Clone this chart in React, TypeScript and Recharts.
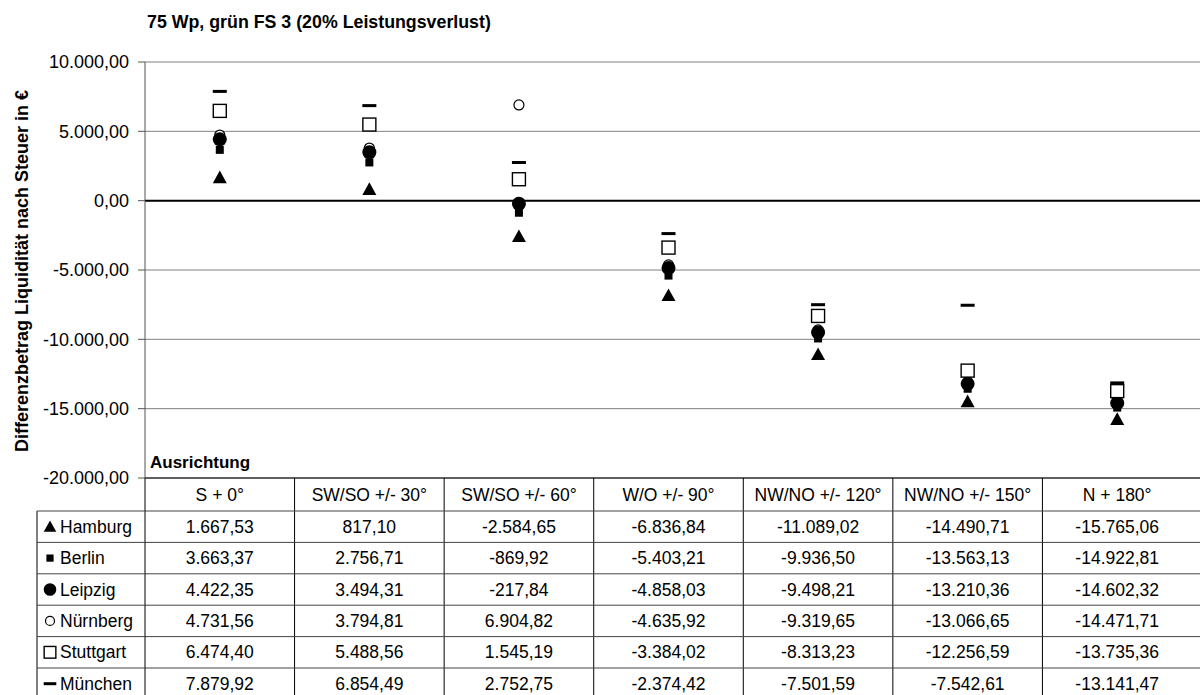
import React from 'react';
import { ComposedChart, Line, XAxis, YAxis, CartesianGrid, ReferenceLine } from 'recharts';

const categories = ['S + 0°', 'SW/SO +/- 30°', 'SW/SO +/- 60°', 'W/O +/- 90°', 'NW/NO +/- 120°', 'NW/NO +/- 150°', 'N + 180°'];
const hamburg = [1667.53, 817.1, -2584.65, -6836.84, -11089.02, -14490.71, -15765.06];
const berlin = [3663.37, 2756.71, -869.92, -5403.21, -9936.5, -13563.13, -14922.81];
const leipzig = [4422.35, 3494.31, -217.84, -4858.03, -9498.21, -13210.36, -14602.32];
const nuernberg = [4731.56, 3794.81, 6904.82, -4635.92, -9319.65, -13066.65, -14471.71];
const stuttgart = [6474.4, 5488.56, 1545.19, -3384.02, -8313.23, -12256.59, -13735.36];
const muenchen = [7879.92, 6854.49, 2752.75, -2374.42, -7501.59, -7542.61, -13141.47];
const yTicks = [-20000, -15000, -10000, -5000, 0, 5000, 10000];

// table order (rows) and drawing order differ a bit
const cities = [
  { key: 'hamburg', name: 'Hamburg', values: hamburg, marker: 'triangle' },
  { key: 'berlin', name: 'Berlin', values: berlin, marker: 'square' },
  { key: 'leipzig', name: 'Leipzig', values: leipzig, marker: 'dot' },
  { key: 'nuernberg', name: 'Nürnberg', values: nuernberg, marker: 'circle' },
  { key: 'stuttgart', name: 'Stuttgart', values: stuttgart, marker: 'openSquare' },
  { key: 'muenchen', name: 'München', values: muenchen, marker: 'dash' },
];
const drawOrder = ['hamburg', 'berlin', 'nuernberg', 'leipzig', 'stuttgart', 'muenchen'];

const data = categories.map((cat, i) => {
  const row: any = { cat };
  cities.forEach((c) => (row[c.key] = c.values[i]));
  return row;
});

const FONT = '"Liberation Sans", Arial, sans-serif';
const W = 1200;
const H = 695;
const LEFT = 145;
const TABLE_RIGHT = 1192;
const TOP = 62;
const BOTTOM = 478;
const HEADER_H = 33;
const ROW_H = 31.4;
const LABEL_LEFT = 37;
const band = (TABLE_RIGHT - LEFT) / categories.length;

function fmt(v: number) {
  const neg = v < 0;
  const [int, dec] = Math.abs(v).toFixed(2).split('.');
  const withDots = int.replace(/\B(?=(\d{3})+(?!\d))/g, '.');
  return (neg ? '-' : '') + withDots + ',' + dec;
}

function Marker({ kind, cx, cy, s = 1 }: { kind: string; cx: number; cy: number; s?: number }) {
  switch (kind) {
    case 'triangle': {
      const h = 7 * s;
      return <polygon points={`${cx},${cy - h} ${cx + h},${cy + h * 0.8} ${cx - h},${cy + h * 0.8}`} fill="#000" />;
    }
    case 'square':
      return <rect x={cx - 4 * s} y={cy - 4 * s} width={8 * s} height={8 * s} fill="#000" />;
    case 'dot':
      return <circle cx={cx} cy={cy} r={7 * s} fill="#000" />;
    case 'circle':
      return <circle cx={cx} cy={cy} r={5 * s} fill="#fff" stroke="#000" strokeWidth={1.2} />;
    case 'openSquare':
      return <rect x={cx - 6.5 * s} y={cy - 6.5 * s} width={13 * s} height={13 * s} fill="#fff" stroke="#000" strokeWidth={1.4} />;
    case 'dash':
      return <rect x={cx - 7 * s} y={cy - 1.5} width={14 * s} height={3} fill="#000" />;
  }
  return null;
}

function rowTop(i: number) {
  return BOTTOM + HEADER_H + i * ROW_H;
}

// header label + the column of values below it, placed at the axis tick
function TableColumn(props: any) {
  const { x, index, payload } = props;
  const last = index === categories.length - 1;
  const right = last ? W : x + band / 2;
  return (
    <g fontFamily={FONT}>
      <text x={x} y={BOTTOM + HEADER_H / 2 + 6} textAnchor="middle" fontSize={17.5} fill="#000">
        {payload.value}
      </text>
      {!last && <line x1={right} x2={right} y1={BOTTOM} y2={H} stroke="#000" />}
      {cities.map((c, r) => (
        <g key={c.key}>
          <line x1={x - band / 2} x2={right} y1={rowTop(r)} y2={rowTop(r)} stroke="#444" />
          <text x={x} y={rowTop(r) + ROW_H / 2 + 6} textAnchor="middle" fontSize={17.5} fill="#000">
            {fmt(c.values[index])}
          </text>
        </g>
      ))}
    </g>
  );
}

export default function App() {
  return (
    <div style={{ position: 'absolute', left: 0, top: 0, width: W, height: H, background: '#fff', overflow: 'hidden' }}>
      <ComposedChart width={W} height={H} data={data} margin={{ top: TOP, right: 0, left: LEFT - 100, bottom: 0 }}>
        <CartesianGrid vertical={false} stroke="#808080" />
        <XAxis
          dataKey="cat"
          height={H - BOTTOM}
          padding={{ left: band / 2, right: band / 2 + (W - TABLE_RIGHT) }}
          axisLine={{ stroke: '#000' }}
          tickLine={false}
          tick={<TableColumn />}
          interval={0}
        />
        <YAxis
          domain={[-20000, 10000]}
          ticks={yTicks}
          tickFormatter={fmt}
          width={100}
          axisLine={{ stroke: '#555' }}
          tickLine={{ stroke: '#555' }}
          tickSize={7}
          tickMargin={9}
          tick={{ fill: '#000', fontSize: 18, fontFamily: FONT }}
        />
        <ReferenceLine y={0} stroke="#000" strokeWidth={2} />
        {drawOrder.map((k) => {
          const c = cities.find((cc) => cc.key === k)!;
          return (
            <Line
              key={k}
              dataKey={k}
              stroke="none"
              isAnimationActive={false}
              activeDot={false}
              dot={(p: any) => <Marker key={p.index} kind={c.marker} cx={p.cx} cy={p.cy} />}
            />
          );
        })}
      </ComposedChart>
      <svg width={W} height={H} style={{ position: 'absolute', left: 0, top: 0, pointerEvents: 'none' }} fontFamily={FONT}>
        <text x={147} y={28} fontSize={17.8} fontWeight="bold" fill="#000">
          75 Wp, grün FS 3 (20% Leistungsverlust)
        </text>
        <text
          x={28}
          y={271}
          fontSize={18}
          fontWeight="bold"
          fill="#000"
          textAnchor="middle"
          transform="rotate(-90 28 271)"
        >
          Differenzbetrag Liquidität nach Steuer in €
        </text>
        <text x={150} y={468} fontSize={17} fontWeight="bold" fill="#000">
          Ausrichtung
        </text>
        <line x1={LEFT} x2={LEFT} y1={BOTTOM} y2={H} stroke="#000" />
        <line x1={LABEL_LEFT} x2={LABEL_LEFT} y1={rowTop(0)} y2={H} stroke="#000" />
        {cities.map((c, r) => (
          <g key={c.key}>
            <line x1={LABEL_LEFT} x2={LEFT} y1={rowTop(r)} y2={rowTop(r)} stroke="#444" />
            <Marker kind={c.marker} cx={LABEL_LEFT + 13} cy={rowTop(r) + ROW_H / 2} s={0.9} />
            <text x={LABEL_LEFT + 23} y={rowTop(r) + ROW_H / 2 + 6} fontSize={17.5} fill="#000">
              {c.name}
            </text>
          </g>
        ))}
      </svg>
    </div>
  );
}
